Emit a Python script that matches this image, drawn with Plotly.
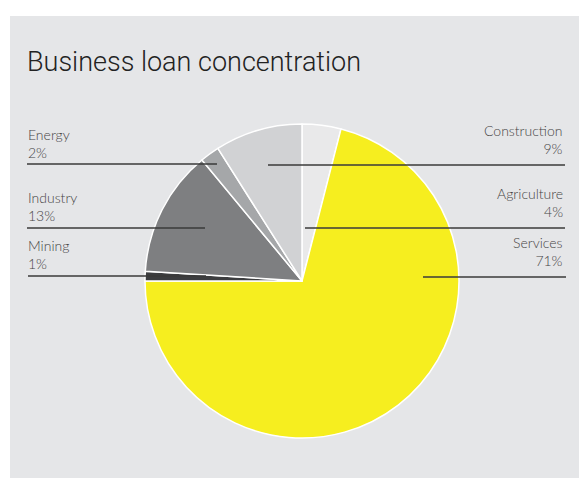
import plotly.graph_objects as go

# Loan concentration by sector (share of business loans, %)
sectors = ["Agriculture", "Services", "Mining", "Industry", "Energy", "Construction"]
shares = [4, 71, 1, 13, 2, 9]
colors = ["#e9e9ea", "#f6ee1f", "#3c3d3f", "#7e7f81", "#a5a7a9", "#d1d2d4"]

W, H = 579, 479


def px(x):
    return x / W


def py(y):
    return 1 - y / H


fig = go.Figure()

# Pie centred at (302, 281) with radius ~157 px
cx, cy, r = 302, 281, 157
fig.add_trace(go.Pie(
    labels=sectors,
    values=shares,
    sort=False,
    direction="clockwise",
    rotation=0,
    textinfo="none",
    hoverinfo="label+percent",
    marker=dict(colors=colors, line=dict(color="white", width=1.5)),
    domain=dict(x=[px(cx - r), px(cx + r)], y=[py(cy + r), py(cy - r)]),
    showlegend=False,
))

shapes = [
    # grey background panel
    dict(type="rect", xref="paper", yref="paper", x0=px(10), x1=px(580),
         y0=py(478), y1=py(16), fillcolor="#e5e6e8", line=dict(width=0), layer="below"),
]

# leader lines: (x0, x1, y)
leaders = {
    "Energy": (27, 217, 164),
    "Industry": (27, 205, 228),
    "Mining": (28, 206, 276),
    "Construction": (268, 565, 165),
    "Agriculture": (305, 565, 228),
    "Services": (423, 566, 277),
}
for name, (x0, x1, y) in leaders.items():
    shapes.append(dict(type="line", xref="paper", yref="paper",
                       x0=px(x0), x1=px(x1), y0=py(y), y1=py(y),
                       line=dict(color="#3a3a3a", width=1.5), layer="above"))

fig.update_layout(
    width=W, height=H,
    margin=dict(l=0, r=0, t=0, b=0),
    paper_bgcolor="white",
    plot_bgcolor="white",
    shapes=shapes,
)

label_font = dict(family="Lato", size=14, color="#454545", weight=300)

# label blocks: (text, x, y_top, anchor)
labels = [
    ("Energy<br>2%", 27, 125, "left"),
    ("Industry<br>13%", 27, 188, "left"),
    ("Mining<br>1%", 27, 236, "left"),
    ("Construction<br>9%", 564, 121, "right"),
    ("Agriculture<br>4%", 564, 184, "right"),
    ("Services<br>71%", 564, 233, "right"),
]
for text, x, y, anchor in labels:
    fig.add_annotation(text=text, xref="paper", yref="paper", x=px(x), y=py(y),
                       xanchor=anchor, yanchor="top", align=anchor, showarrow=False,
                       font=label_font, borderpad=0)

fig.add_annotation(text="Business loan concentration", xref="paper", yref="paper",
                   x=px(26), y=py(45), xanchor="left", yanchor="top", showarrow=False,
                   font=dict(family="Roboto", size=27, color="#222222", weight=300),
                   borderpad=0)

fig.write_html("out.html")
